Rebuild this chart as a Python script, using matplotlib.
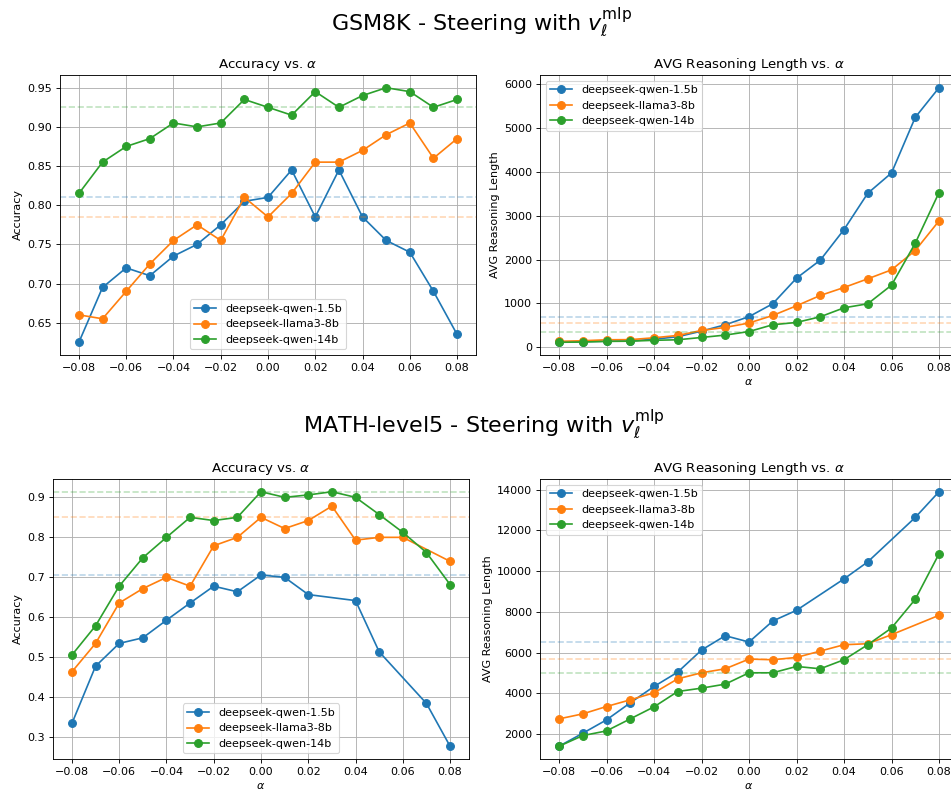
import numpy as np
import matplotlib
matplotlib.use('Agg')
import matplotlib.pyplot as plt

alphas = [-0.08, -0.07, -0.06, -0.05, -0.04, -0.03, -0.02, -0.01, 0.0,
          0.01, 0.02, 0.03, 0.04, 0.05, 0.06, 0.07, 0.08]
models = ['deepseek-qwen-1.5b', 'deepseek-llama3-8b', 'deepseek-qwen-14b']
colors = ['#1f77b4', '#ff7f0e', '#2ca02c']

# GSM8K
gsm_acc_qwen15 = [0.625, 0.695, 0.72, 0.71, 0.735, 0.75, 0.775, 0.805, 0.81,
                  0.845, 0.785, 0.845, 0.785, 0.755, 0.74, 0.69, 0.635]
gsm_acc_llama8 = [0.66, 0.655, 0.69, 0.725, 0.755, 0.775, 0.755, 0.81, 0.785,
                  0.815, 0.855, 0.855, 0.87, 0.89, 0.905, 0.86, 0.885]
gsm_acc_qwen14 = [0.815, 0.855, 0.875, 0.885, 0.905, 0.90, 0.905, 0.935, 0.925,
                  0.915, 0.945, 0.925, 0.94, 0.95, 0.945, 0.925, 0.935]

gsm_len_qwen15 = [122, 125, 135, 140, 180, 236, 365, 510, 695,
                  990, 1574, 1985, 2684, 3513, 3977, 5247, 5924]
gsm_len_llama8 = [130, 145, 167, 170, 213, 266, 380, 449, 550,
                  722, 943, 1179, 1361, 1559, 1764, 2205, 2882]
gsm_len_qwen14 = [110, 115, 130, 135, 155, 167, 220, 274, 355,
                  510, 563, 692, 897, 989, 1414, 2373, 3529]

# MATH-level5 (None = no point at that alpha)
math_acc_qwen15 = [0.335, 0.478, 0.535, 0.549, 0.593, 0.636, 0.678, 0.664, 0.706,
                   0.70, 0.657, None, 0.642, 0.514, None, 0.385, 0.278]
math_acc_llama8 = [0.464, 0.535, 0.636, 0.672, 0.70, 0.678, 0.779, 0.80, 0.85,
                   0.822, 0.842, 0.878, 0.793, 0.80, 0.80, None, 0.74]
math_acc_qwen14 = [0.506, 0.579, 0.678, 0.749, 0.80, 0.85, 0.842, 0.85, 0.914,
                   0.90, 0.906, 0.914, 0.90, 0.857, 0.8125, 0.762, 0.682]

math_len_qwen15 = [1410, 2049, 2705, 3541, 4344, 5049, 6131, 6836, 6525,
                   7557, 8082, None, 9623, 10459, None, 12639, 13902]
math_len_llama8 = [2754, 3000, 3361, 3689, 4033, 4721, 5016, 5213, 5689,
                   5656, 5770, 6082, 6393, 6443, 6885, None, 7836]
math_len_qwen14 = [1410, 1934, 2164, 2754, 3344, 4098, 4262, 4459, 5016,
                   5016, 5328, 5213, 5656, 6393, 7213, 8623, 10852]

W, H = 951, 791
DPI = 80
fig = plt.figure(figsize=(W / DPI, H / DPI), dpi=DPI)


def box(left, top, right, bottom):
    return [left / W, 1 - bottom / H, (right - left) / W, (bottom - top) / H]


def draw(ax, series, title, ylabel, legend_loc, xlabel=True):
    for name, vals, c in zip(models, series, colors):
        xs = [a for a, v in zip(alphas, vals) if v is not None]
        ys = [v for v in vals if v is not None]
        ax.plot(xs, ys, marker='o', markersize=7, color=c, label=name)
        base = vals[alphas.index(0.0)]
        ax.axhline(base, color=c, linestyle='--', alpha=0.3)
    ax.set_title(title)
    ax.set_ylabel(ylabel)
    if xlabel:
        ax.set_xlabel(r'$\alpha$')
    ax.grid(True)
    ax.legend(loc=legend_loc)


ax1 = fig.add_axes(box(60, 75, 476, 355))
draw(ax1, [gsm_acc_qwen15, gsm_acc_llama8, gsm_acc_qwen14],
     r'Accuracy vs. $\alpha$', 'Accuracy', 'lower center', xlabel=False)

ax2 = fig.add_axes(box(540, 75, 958, 355))
draw(ax2, [gsm_len_qwen15, gsm_len_llama8, gsm_len_qwen14],
     r'AVG Reasoning Length vs. $\alpha$', 'AVG Reasoning Length', 'upper left')

ax3 = fig.add_axes(box(53, 479, 469, 759))
draw(ax3, [math_acc_qwen15, math_acc_llama8, math_acc_qwen14],
     r'Accuracy vs. $\alpha$', 'Accuracy', 'lower center')

ax4 = fig.add_axes(box(540, 479, 958, 759))
draw(ax4, [math_len_qwen15, math_len_llama8, math_len_qwen14],
     r'AVG Reasoning Length vs. $\alpha$', 'AVG Reasoning Length', 'upper left')

fig.text(482 / W, 1 - 30 / H, r'GSM8K - Steering with $v_\ell^{\mathrm{mlp}}$',
         ha='center', va='baseline', fontsize=20)
fig.text(484 / W, 1 - 432 / H, r'MATH-level5 - Steering with $v_\ell^{\mathrm{mlp}}$',
         ha='center', va='baseline', fontsize=20)

fig.savefig('out.png', dpi=DPI)
